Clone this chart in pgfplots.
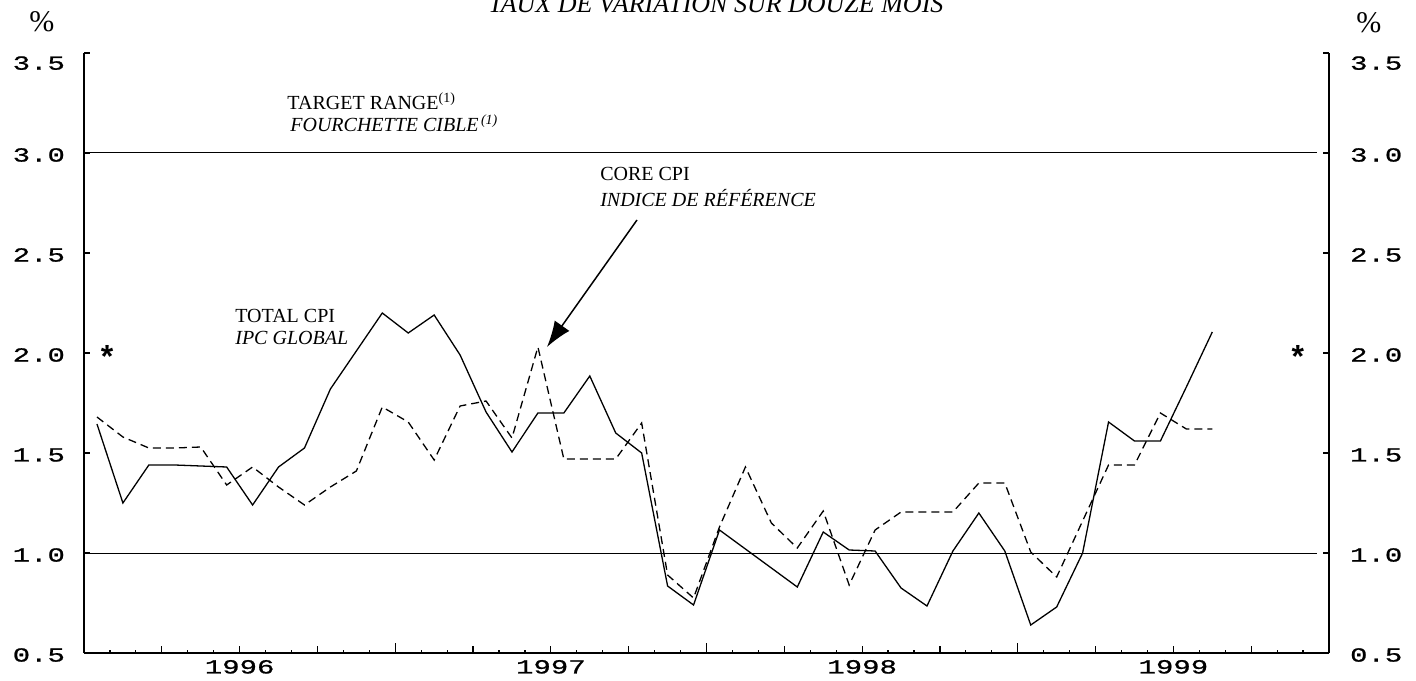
\documentclass[border=0pt]{standalone}
\usepackage{pgfplots}
\pgfplotsset{compat=1.18}
\usepackage{pgfplotstable}
\usepackage{fontspec}
\setmainfont{Liberation Serif}
\newfontfamily\tickfont[FakeStretch=1.45, FakeBold=1]{Liberation Mono}
\newfontfamily\starfont{Liberation Sans}
\usetikzlibrary{arrows.meta}

\pgfplotstableread{
x total core
0.5 1.645 1.68
1.5 1.25 1.58
2.5 1.44 1.525
3.5 1.44 1.525
4.5 1.435 1.53
5.5 1.43 1.34
6.5 1.24 1.43
7.5 1.43 1.33
8.5 1.525 1.24
9.5 1.82 1.33
10.5 2.01 1.41
11.5 2.20 1.73
12.5 2.10 1.655
13.5 2.19 1.465
14.5 1.99 1.735
15.5 1.705 1.76
16.5 1.505 1.575
17.5 1.70 2.03
18.5 1.70 1.47
19.5 1.885 1.47
20.5 1.60 1.47
21.5 1.50 1.65
22.5 0.835 0.89
23.5 0.74 0.775
24.5 1.115 1.13
25.5 1.02 1.43
26.5 0.925 1.15
27.5 0.83 1.025
28.5 1.105 1.21
29.5 1.015 0.84
30.5 1.01 1.115
31.5 0.825 1.205
32.5 0.735 1.205
33.5 1.01 1.205
34.5 1.20 1.35
35.5 1.01 1.35
36.5 0.64 1.005
37.5 0.73 0.88
38.5 1.0 1.16
39.5 1.655 1.44
40.5 1.56 1.44
41.5 1.56 1.70
42.5 1.83 1.62
43.5 2.105 1.62
}\cpidata

\begin{document}
\begin{tikzpicture}
\begin{axis}[
  at={(42pt,13.5pt)}, anchor=south west,
  scale only axis, width=622.5pt, height=300pt,
  xmin=0, xmax=48, ymin=0.5, ymax=3.5,
  axis x line*=bottom, axis y line*=left,
  axis line style={-, line width=0.75pt},
  tick align=inside,
  xtick={3,6,9,15,18,21,27,30,33,39,42,45},
  xticklabels={,1996,,,1997,,,1998,,,1999,},
  minor xtick={1,2,3,4,5,6,7,8,9,10,11,13,14,15,16,17,18,19,20,21,22,23,25,26,27,28,29,30,31,32,33,34,35,37,38,39,40,41,42,43,44,45,46,47},
  extra x ticks={12,24,36}, extra x tick labels={},
  extra x tick style={major tick length=5pt},
  major tick length=3.5pt, minor tick length=1.5pt,
  ytick={0.5,1.0,1.5,2.0,2.5,3.0,3.5},
  yticklabels={0.5,1.0,1.5,2.0,2.5,3.0,\raisebox{-4pt}[\height][0pt]{3.5}},
  ytick style={/pgfplots/major tick length=3pt},
  tick style={black, line width=0.6pt},
  ticklabel style={font=\tickfont\fontsize{10}{12}\selectfont},
  yticklabel style={xshift=-6pt, yshift=-1pt},
  clip=false,
]
\addplot[black, line width=0.5pt] coordinates {(0,3.0) (47.53,3.0)};
\addplot[black, line width=0.5pt] coordinates {(0,1.0) (47.53,1.0)};
\addplot[black, line width=0.65pt] table[x=x, y=total] {\cpidata};
\addplot[black, line width=0.65pt, dash pattern=on 4pt off 2.5pt] table[x=x, y=core] {\cpidata};

\node[anchor=base, font=\itshape\fontsize{13}{15}\selectfont] at (axis cs:24.36,3.7) {TAUX DE VARIATION SUR DOUZE MOIS};
\node[font=\fontsize{15}{17}\selectfont] at (axis cs:-1.62,3.655) {\%};
\node[font=\fontsize{15}{17}\selectfont] at (axis cs:49.54,3.65) {\%};

\node[anchor=base west, inner sep=0pt, font=\fontsize{10}{12}\selectfont] at (axis cs:7.83,3.215) {TARGET RANGE\textsuperscript{(1)}};
\node[anchor=base west, inner sep=0pt, font=\itshape\fontsize{10}{12}\selectfont] at (axis cs:7.94,3.105) {FOURCHETTE CIBLE\textsuperscript{\,(1)}};
\node[anchor=base west, inner sep=0pt, font=\fontsize{10}{12}\selectfont] at (axis cs:5.82,2.15) {TOTAL CPI};
\node[anchor=base west, inner sep=0pt, font=\itshape\fontsize{10}{12}\selectfont] at (axis cs:5.82,2.04) {IPC GLOBAL};
\node[anchor=base west, inner sep=0pt, font=\fontsize{10}{12}\selectfont] at (axis cs:19.89,2.86) {CORE CPI};
\node[anchor=base west, inner sep=0pt, font=\itshape\fontsize{10}{12}\selectfont] at (axis cs:19.89,2.73) {INDICE DE RÉFÉRENCE};
\draw[line width=0.75pt, -{Latex[length=13pt,width=9pt]}] (axis cs:21.32,2.665) -- (axis cs:17.85,2.03);

\node[anchor=base, inner sep=0pt, font=\starfont\bfseries\fontsize{16}{18}\selectfont] at (axis cs:0.89,1.925) {*};
\node[anchor=base, inner sep=0pt, font=\starfont\bfseries\fontsize{16}{18}\selectfont] at (axis cs:46.8,1.925) {*};
\end{axis}
\begin{axis}[
  at={(42pt,13.5pt)}, anchor=south west,
  scale only axis, width=622.5pt, height=300pt,
  xmin=0, xmax=48, ymin=0.5, ymax=3.5,
  axis x line=none, axis y line*=right,
  axis line style={-, line width=0.75pt},
  tick align=inside,
  major tick length=3pt,
  tick style={black, line width=0.6pt},
  ytick={0.5,1.0,1.5,2.0,2.5,3.0,3.5},
  yticklabels={0.5,1.0,1.5,2.0,2.5,3.0,\raisebox{-4pt}[\height][0pt]{3.5}},
  ticklabel style={font=\tickfont\fontsize{10}{12}\selectfont},
  yticklabel style={xshift=7pt, yshift=-1pt},
]
\addplot[draw=none] coordinates {(0,1) (48,1)};
\end{axis}
\pgfresetboundingbox
\path[use as bounding box] (0,0) rectangle (708pt,340pt);
\end{tikzpicture}
\end{document}
